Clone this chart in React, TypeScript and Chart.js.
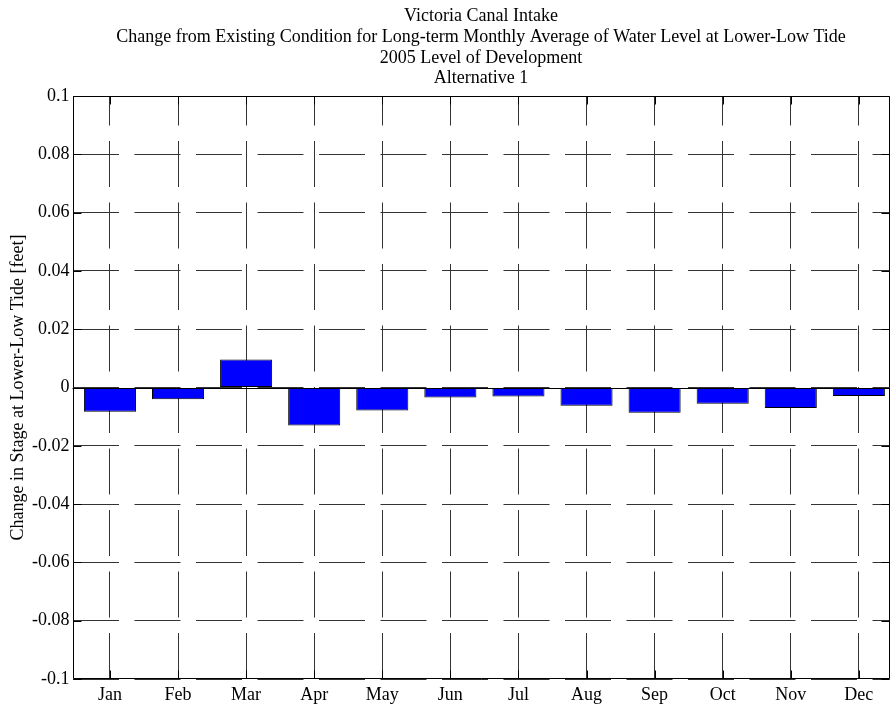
import React, { useEffect, useRef } from "react";
import { Chart, registerables } from "chart.js";

Chart.register(...registerables);

const titleLines = [
  "Victoria Canal Intake",
  "Change from Existing Condition for Long-term Monthly Average of Water Level at Lower-Low Tide",
  "2005 Level of Development",
  "Alternative 1",
];
const yAxisTitle = "Change in Stage at Lower-Low Tide [feet]";
const months = ["Jan", "Feb", "Mar", "Apr", "May", "Jun", "Jul", "Aug", "Sep", "Oct", "Nov", "Dec"];
const changeValues = [-0.0083, -0.004, 0.0096, -0.013, -0.0079, -0.0034, -0.0031, -0.0063, -0.0087, -0.0056, -0.007, -0.0029];
const yMin = -0.1;
const yMax = 0.1;
const yStep = 0.02;

const FONT = "'Liberation Serif', 'Times New Roman', serif";
const FS = 18;

const framePlugin = {
  id: "matlabFrame",
  afterDatasetsDraw(chart: any) {
    const { ctx, chartArea: a, scales } = chart;
    const y = scales.y;
    const x = scales.x;
    ctx.save();
    ctx.strokeStyle = "#000";
    ctx.lineWidth = 1;
    // baseline at zero
    const y0 = Math.round(y.getPixelForValue(0)) + 0.5;
    ctx.beginPath();
    ctx.moveTo(a.left, y0);
    ctx.lineTo(a.right, y0);
    ctx.stroke();
    // frame
    const L = Math.round(a.left) + 0.5, R = Math.round(a.right) - 0.5;
    const T = Math.round(a.top) + 0.5, B = Math.round(a.bottom) - 0.5;
    ctx.beginPath();
    ctx.rect(L, T, R - L, B - T);
    ctx.stroke();
    // inside ticks
    const tl = 8;
    ctx.beginPath();
    y.ticks.forEach((t: any) => {
      const py = Math.round(y.getPixelForValue(t.value)) + 0.5;
      ctx.moveTo(L, py); ctx.lineTo(L + tl, py);
      ctx.moveTo(R, py); ctx.lineTo(R - tl, py);
    });
    x.ticks.forEach((t: any) => {
      const px = Math.round(x.getPixelForValue(t.value)) + 0.5;
      ctx.moveTo(px, B); ctx.lineTo(px, B - tl);
      ctx.moveTo(px, T); ctx.lineTo(px, T + tl);
    });
    ctx.stroke();
    // title
    ctx.fillStyle = "#000";
    ctx.font = `${FS}px ${FONT}`;
    ctx.textAlign = "center";
    ctx.textBaseline = "alphabetic";
    const cx = (a.left + a.right) / 2;
    titleLines.forEach((line, i) => {
      ctx.fillText(line, cx, 21 + i * 20.8);
    });
    ctx.restore();
  },
};

export default function App() {
  const ref = useRef<HTMLCanvasElement>(null);
  useEffect(() => {
    if (!ref.current) return;
    const chart = new Chart(ref.current, {
      type: "bar",
      data: {
        datasets: [
          {
            data: changeValues.map((v, i) => ({ x: i + 1, y: v })),
            backgroundColor: "#0000ff",
            borderColor: "#000",
            borderWidth: 1,
            borderSkipped: false,
            barPercentage: 0.765,
            categoryPercentage: 1,
          },
        ],
      },
      options: {
        responsive: false,
        animation: false,
        events: [],
        layout: { padding: { top: 96, right: 5.5, bottom: 0, left: 0 } },
        plugins: { legend: { display: false }, tooltip: { enabled: false }, title: { display: false } },
        scales: {
          x: {
            type: "linear",
            min: 0.45,
            max: 12.45,
            offset: false,
            grid: { color: "#333", lineWidth: 1, drawTicks: false, offset: false },
            border: { display: false, dash: [46, 15.5], dashOffset: 16.5 },
            afterBuildTicks: (s: any) => {
              s.ticks = months.map((_, i) => ({ value: i + 1 }));
            },
            ticks: {
              autoSkip: false,
              maxRotation: 0,
              padding: 5,
              color: "#000",
              font: { family: FONT, size: FS },
              callback: (v: any) => months[Math.round(v) - 1] ?? "",
            },
            afterFit: (s: any) => { s.height = 34; },
          },
          y: {
            min: yMin,
            max: yMax,
            grid: { color: "#333", lineWidth: 1, drawTicks: false },
            border: { display: false, dash: [46, 15.5], dashOffset: 0 },
            ticks: {
              stepSize: yStep,
              padding: 3,
              color: "#000",
              font: { family: FONT, size: FS },
              callback: (v: any) => String(Number(Number(v).toFixed(2))),
            },
            title: {
              display: true,
              text: yAxisTitle,
              color: "#000",
              font: { family: FONT, size: FS },
              padding: { top: 7, bottom: 0 },
            },
            afterFit: (s: any) => { s.width = 72.5; },
          },
        },
      },
      plugins: [framePlugin],
    } as any);
    return () => chart.destroy();
  }, []);
  return (
    <div style={{ position: "fixed", left: 0, top: 0, width: 895, height: 713, background: "#fff" }}>
      <canvas ref={ref} width={895} height={713} style={{ display: "block" }} />
    </div>
  );
}
